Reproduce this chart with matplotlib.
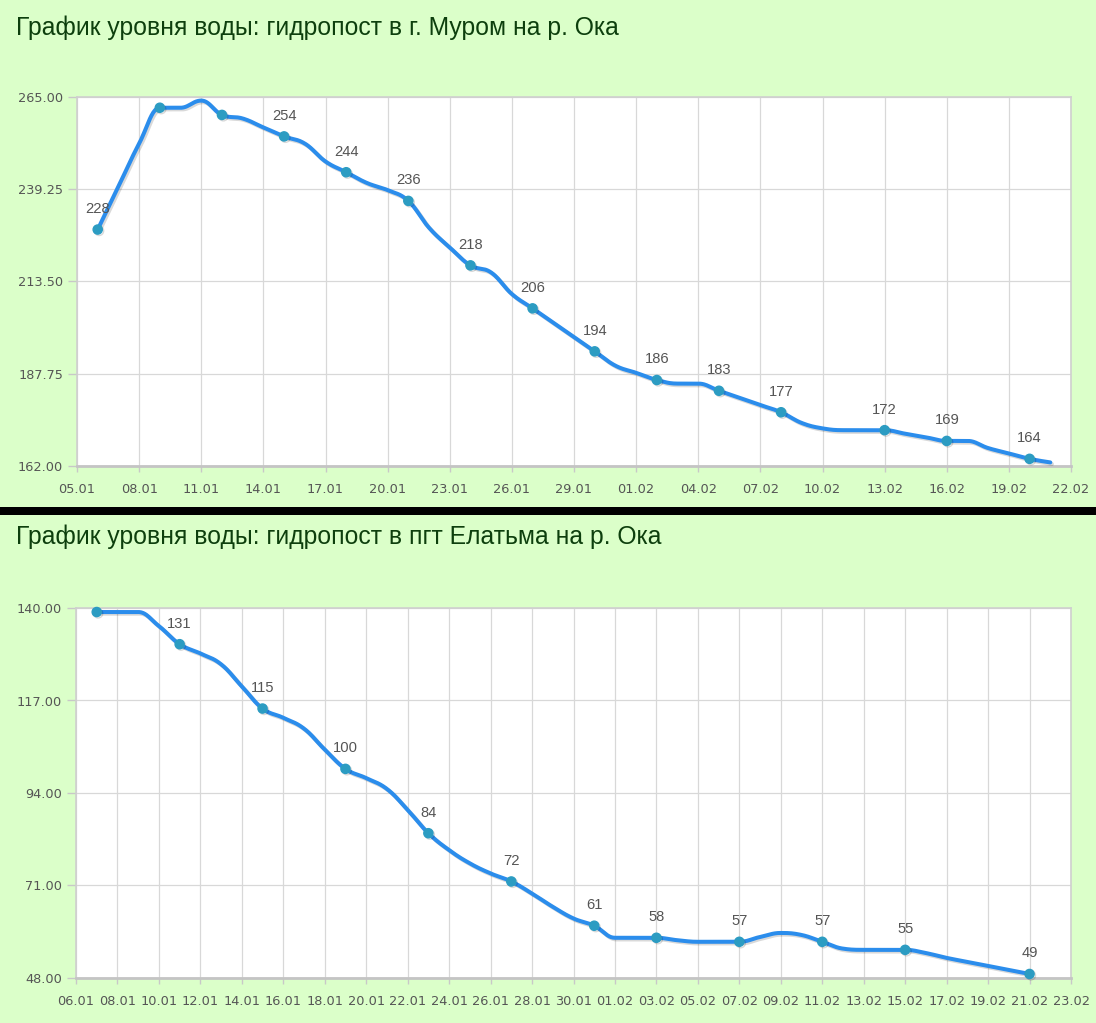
import datetime as dt
import numpy as np
import matplotlib
matplotlib.use("Agg")
import matplotlib.pyplot as plt
import matplotlib.patheffects as pe
from matplotlib.patches import Rectangle

# ---------------- data ----------------
title_murom = "График уровня воды: гидропост в г. Муром на р. Ока"
title_elatma = "График уровня воды: гидропост в пгт Елатьма на р. Ока"

murom_dates = ["06.01", "07.01", "08.01", "09.01", "10.01", "11.01", "12.01", "13.01",
               "14.01", "15.01", "16.01", "17.01", "18.01", "19.01", "20.01", "21.01",
               "22.01", "23.01", "24.01", "25.01", "26.01", "27.01", "28.01", "29.01",
               "30.01", "31.01", "01.02", "02.02", "03.02", "04.02", "05.02", "06.02",
               "07.02", "08.02", "09.02", "10.02", "11.02", "12.02", "13.02", "14.02",
               "15.02", "16.02", "17.02", "18.02", "19.02", "20.02", "21.02"]
murom_levels = [228, 240, 252, 262, 262, 264, 260, 259,
                256.5, 254, 252, 247, 244, 241, 239, 236,
                228.5, 223, 218, 216, 210, 206, 202, 198,
                194, 190, 188, 186, 185, 185, 183, 181,
                179, 177, 174, 172.5, 172, 172, 172, 171,
                170, 169, 169, 167, 165.5, 164, 163]
murom_marked = ["06.01", "09.01", "12.01", "15.01", "18.01", "21.01", "24.01", "27.01",
                "30.01", "02.02", "05.02", "08.02", "13.02", "16.02", "20.02"]
murom_yticks = [162.00, 187.75, 213.50, 239.25, 265.00]
murom_xrange = ("05.01", "22.02")
murom_xstep = 3

elatma_dates = ["07.01", "08.01", "09.01", "10.01", "11.01", "12.01", "13.01", "14.01",
                "15.01", "16.01", "17.01", "18.01", "19.01", "20.01", "21.01", "22.01",
                "23.01", "24.01", "25.01", "26.01", "27.01", "28.01", "29.01", "30.01",
                "31.01", "01.02", "02.02", "03.02", "04.02", "05.02", "06.02", "07.02",
                "08.02", "09.02", "10.02", "11.02", "12.02", "13.02", "14.02", "15.02",
                "16.02", "17.02", "18.02", "19.02", "20.02", "21.02"]
elatma_levels = [139, 139, 139, 135.5, 131, 128.7, 126, 120.5,
                 115, 112.7, 110, 104.8, 100, 97.7, 95, 89.8,
                 84, 79.8, 76.5, 74, 72, 69, 65.7, 62.8,
                 61, 58, 58, 58, 57.4, 57, 57, 57,
                 58.2, 59.2, 58.7, 57, 55.3, 55, 55, 55,
                 54.2, 53, 52, 51, 50, 49]
elatma_marked = ["07.01", "11.01", "15.01", "19.01", "23.01", "27.01", "31.01", "03.02",
                 "07.02", "11.02", "15.02", "21.02"]
elatma_yticks = [48.00, 71.00, 94.00, 117.00, 140.00]
elatma_xrange = ("06.01", "23.02")
elatma_xstep = 2

# ---------------- helpers ----------------
YEAR = 2023


def to_date(s):
    d, m = s.split(".")
    return dt.date(YEAR, int(m), int(d))


def hc_spline(xs, ys, n=24):
    """Highcharts-style spline through points (cubic Bezier segments)."""
    xs = np.asarray(xs, float)
    ys = np.asarray(ys, float)
    N = len(xs)
    lc = [(xs[i], ys[i]) for i in range(N)]
    rc = [(xs[i], ys[i]) for i in range(N)]
    s = 1.5
    d = s + 1
    for i in range(1, N - 1):
        x, y = xs[i], ys[i]
        lx = (s * x + xs[i - 1]) / d
        ly = (s * y + ys[i - 1]) / d
        rx = (s * x + xs[i + 1]) / d
        ry = (s * y + ys[i + 1]) / d
        if rx != lx:
            corr = ((ry - ly) * (rx - x)) / (rx - lx) + y - ry
            ly += corr
            ry += corr
        if ly > ys[i - 1] and ly > y:
            ly = max(ys[i - 1], y)
            ry = 2 * y - ly
        elif ly < ys[i - 1] and ly < y:
            ly = min(ys[i - 1], y)
            ry = 2 * y - ly
        if ry > ys[i + 1] and ry > y:
            ry = max(ys[i + 1], y)
            ly = 2 * y - ry
        elif ry < ys[i + 1] and ry < y:
            ry = min(ys[i + 1], y)
            ly = 2 * y - ry
        lc[i] = (lx, ly)
        rc[i] = (rx, ry)
    t = np.linspace(0, 1, n)[:, None]
    out = []
    for i in range(N - 1):
        P0 = np.array([xs[i], ys[i]])
        P1 = np.array(rc[i])
        P2 = np.array(lc[i + 1])
        P3 = np.array([xs[i + 1], ys[i + 1]])
        seg = ((1 - t) ** 3) * P0 + 3 * ((1 - t) ** 2) * t * P1 + 3 * (1 - t) * t ** 2 * P2 + t ** 3 * P3
        out.append(seg if i == 0 else seg[1:])
    pts = np.vstack(out)
    return pts[:, 0], pts[:, 1]


BG = "#dbffc9"
LINE = "#2b8dec"
MARK = "#2c9cc2"
TXT = "#555555"
TITLE_C = "#0d3f0d"

W, H = 1096, 1023
fig = plt.figure(figsize=(W / 100, H / 100), dpi=100)
fig.patch.set_facecolor(BG)

# black separator bar
fig.patches.append(Rectangle((0, 1 - 515 / H), 1, 8 / H, transform=fig.transFigure,
                             facecolor="black", edgecolor="none", zorder=5))

TICKFONT = dict(family="DejaVu Sans", size=9.3)


def panel(rect_px, title, title_y, dates, levels, marked, yticks, xrange, xstep):
    l, t, r, b = rect_px
    ax = fig.add_axes([l / W, 1 - b / H, (r - l) / W, (b - t) / H])
    ax.set_facecolor("white")
    fig.text(16 / W, 1 - title_y / H, title, fontsize=17.8, color=TITLE_C,
             family="Liberation Sans", va="center", ha="left")

    x0 = to_date(xrange[0])
    x1 = to_date(xrange[1])
    span = (x1 - x0).days
    xs = np.array([(to_date(s) - x0).days for s in dates], float)
    ys = np.array(levels, float)

    ax.set_xlim(0, span)
    ax.set_ylim(yticks[0], yticks[-1])

    ticks = list(range(0, span + 1, xstep))
    ax.set_xticks(ticks)
    ax.set_xticklabels([(x0 + dt.timedelta(days=k)).strftime("%d.%m") for k in ticks],
                       color=TXT, **TICKFONT)
    ax.set_yticks(yticks)
    ax.set_yticklabels([f"{v:.2f}" for v in yticks], color=TXT, **TICKFONT)

    ax.grid(True, color="#d8d8d8", linewidth=0.9)
    ax.set_axisbelow(True)
    ax.tick_params(axis="x", direction="out", length=4, width=1, color="#c8c8c8", pad=8.5)
    ax.tick_params(axis="y", direction="out", length=6.5, width=1, color="#c8c8c8", pad=3.5)
    for side, sp in ax.spines.items():
        sp.set_color("#cfcfcf")
        sp.set_linewidth(1.2)
    ax.spines["bottom"].set_color("#c4c4c4")
    ax.spines["bottom"].set_linewidth(2.0)

    sx, sy = hc_spline(xs, ys)
    ax.plot(sx, sy, color=LINE, lw=2.9, solid_capstyle="round", solid_joinstyle="round",
            zorder=3, clip_on=False,
            path_effects=[pe.SimpleLineShadow(offset=(1.2, -1.2), shadow_color="black",
                                              alpha=0.15), pe.Normal()])

    mset = set(marked)
    mx = [x for x, s in zip(xs, dates) if s in mset]
    my = [y for y, s in zip(ys, dates) if s in mset]
    ax.plot(mx, my, "o", ms=6.6, color=MARK, mec=MARK, zorder=4, clip_on=False,
            path_effects=[pe.SimpleLineShadow(offset=(1, -1), shadow_color="black",
                                              alpha=0.15), pe.Normal()])

    ypx = (b - t) / (yticks[-1] - yticks[0])
    for x, y in zip(mx, my):
        if (yticks[-1] - y) * ypx < 22:
            continue
        ax.annotate(f"{y:.0f}", (x, y), xytext=(0, 12), textcoords="offset points",
                    ha="center", va="baseline", color=TXT, family="Liberation Sans",
                    fontsize=10.6, zorder=6)
    return ax


panel((77, 97, 1071, 466), title_murom, 28, murom_dates, murom_levels, murom_marked,
      murom_yticks, murom_xrange, murom_xstep)
panel((76, 608, 1071, 978), title_elatma, 537, elatma_dates, elatma_levels, elatma_marked,
      elatma_yticks, elatma_xrange, elatma_xstep)

fig.savefig("out.png", dpi=100, facecolor=fig.get_facecolor())
